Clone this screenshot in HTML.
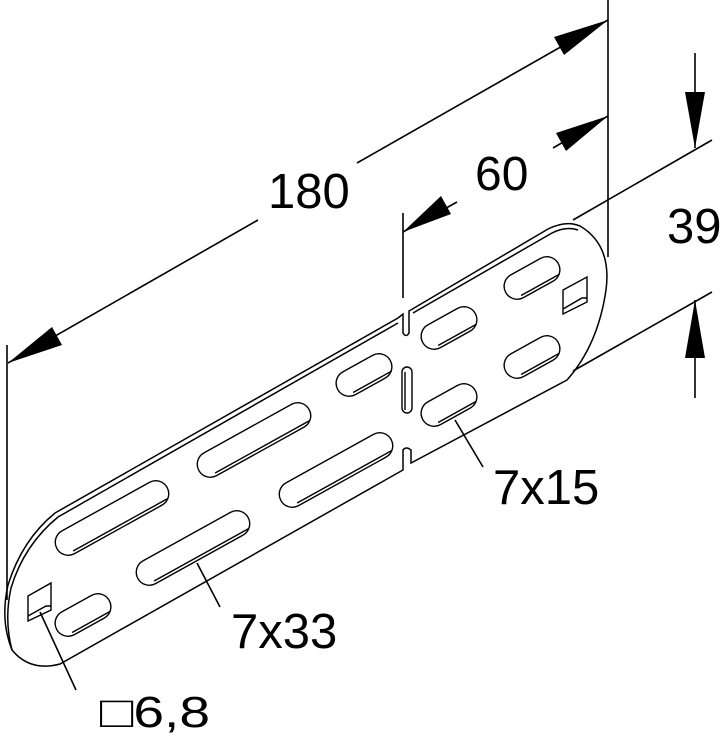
<!DOCTYPE html>
<html><head><meta charset="utf-8"><style>
html,body{margin:0;padding:0;background:#fff}
svg{display:block}
text{font-family:"Liberation Sans",sans-serif;fill:#000}
</style></head><body>
<svg width="721" height="737" viewBox="0 0 721 737" xmlns="http://www.w3.org/2000/svg">
<g fill="none" stroke="#000" stroke-width="1.6">
<line x1="7" y1="345" x2="7" y2="600"/>
<line x1="608" y1="0" x2="608" y2="257"/>
<line x1="403" y1="213" x2="403" y2="298"/>
<line x1="573" y1="220" x2="712" y2="140"/>
<line x1="573" y1="371" x2="712" y2="292"/>
<line x1="8" y1="363" x2="258" y2="220"/>
<line x1="357" y1="163" x2="608" y2="20"/>
<line x1="403" y1="232" x2="457" y2="202"/>
<line x1="553" y1="148" x2="608" y2="116"/>
<line x1="695" y1="53" x2="695" y2="148"/>
<line x1="695" y1="300" x2="695" y2="398"/>
<line x1="455" y1="420" x2="483" y2="467"/>
<line x1="197" y1="563" x2="220" y2="607"/>
<line x1="40" y1="612" x2="76" y2="690"/>
</g>
<g fill="#000" stroke="none">
<polygon points="8,363 52,327 62,345"/>
<polygon points="608,20 564,55 554,37"/>
<polygon points="403,232 441,196 451,214"/>
<polygon points="608,116 566,151 556,133"/>
<polygon points="695,148 685,92 705,92"/>
<polygon points="695,300 685,358 705,358"/>
</g>
<g fill="none" stroke="#000" stroke-width="1.5">
<path d="M55,513 L398,318 L403,314 L403,333 Q406,338 409,333 L409,311 L548,229 Q566,220 580,226 Q612,245 606,290 Q598,345 567,380 L411,463 L411,450 Q406,446 403,450 L403,470 L60,664 Q30,672 12,650 Q0,620 8,585 Q22,540 55,513 Z"/>
<path d="M58,517 L398,323 M413,313 L552,233 Q566,226 578,230"/>
<path d="M12,650 Q4,620 11,588 Q24,545 58,517"/>
</g>
<g fill="none" stroke="#000" stroke-width="1.4">
<g transform="translate(112,518) rotate(-29)"><rect x="-63" y="-13" width="126" height="26" rx="13"/><line x1="-50" y1="10" x2="58" y2="10"/></g>
<g transform="translate(193,548) rotate(-29)"><rect x="-63" y="-13" width="126" height="26" rx="13"/><line x1="-50" y1="10" x2="58" y2="10"/></g>
<g transform="translate(254,440) rotate(-29)"><rect x="-63" y="-13" width="126" height="26" rx="13"/><line x1="-50" y1="10" x2="58" y2="10"/></g>
<g transform="translate(336,470) rotate(-29)"><rect x="-63" y="-13" width="126" height="26" rx="13"/><line x1="-50" y1="10" x2="58" y2="10"/></g>
<g transform="translate(83,615) rotate(-29)"><rect x="-30" y="-13" width="60" height="26" rx="13"/><line x1="-18" y1="10" x2="26" y2="10"/></g>
<g transform="translate(364,375) rotate(-29)"><rect x="-30" y="-13" width="60" height="26" rx="13"/><line x1="-18" y1="10" x2="26" y2="10"/></g>
<g transform="translate(449,328) rotate(-29)"><rect x="-30" y="-13" width="60" height="26" rx="13"/><line x1="-18" y1="10" x2="26" y2="10"/></g>
<g transform="translate(449,405) rotate(-29)"><rect x="-30" y="-13" width="60" height="26" rx="13"/><line x1="-18" y1="10" x2="26" y2="10"/></g>
<g transform="translate(532,278) rotate(-29)"><rect x="-30" y="-13" width="60" height="26" rx="13"/><line x1="-18" y1="10" x2="26" y2="10"/></g>
<g transform="translate(532,357) rotate(-29)"><rect x="-30" y="-13" width="60" height="26" rx="13"/><line x1="-18" y1="10" x2="26" y2="10"/></g>
<rect x="402" y="367" width="10" height="46" rx="5"/>
<line x1="405" y1="372" x2="405" y2="410"/>
<polygon points="28,596 51,583 51,610 28,621"/>
<polyline points="28,616 46,606 51,606"/>
<polygon points="563,290 587,277 587,302 563,314"/>
<polyline points="563,309 582,298 587,298"/>
</g>
<text x="268" y="208" font-size="49">180</text>
<text x="475" y="190" font-size="48">60</text>
<text x="667" y="243" font-size="49">39</text>
<text x="493" y="504" font-size="49">7x15</text>
<text x="231" y="648" font-size="49">7x33</text>
<text x="100" y="727" font-size="44" textLength="110" lengthAdjust="spacingAndGlyphs">□6,8</text>
</svg>
</body></html>
